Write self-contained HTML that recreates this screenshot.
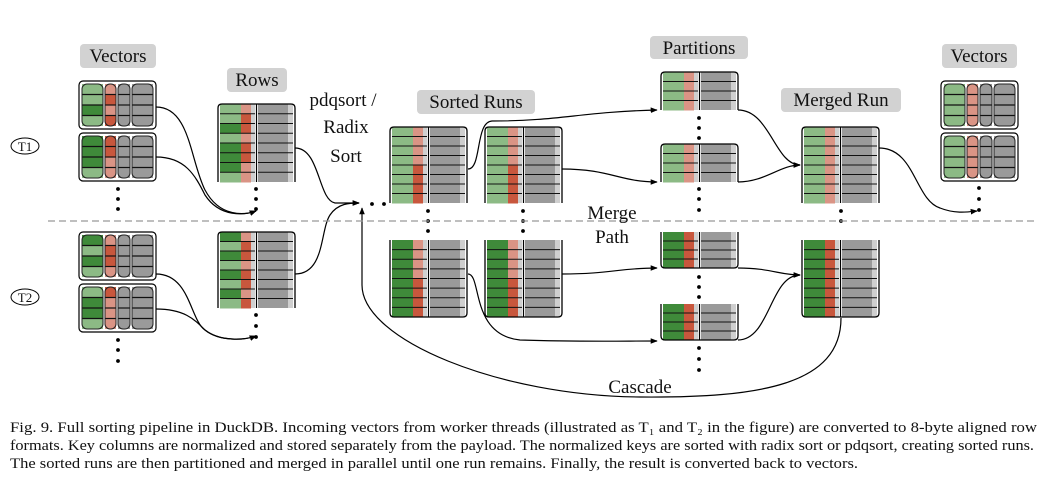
<!DOCTYPE html>
<html><head><meta charset="utf-8"><style>
html,body{margin:0;padding:0;background:#fff;}
svg{display:block;}
text{font-family:"Liberation Serif",serif;}
</style></head><body>
<svg id="s" width="1063" height="487" viewBox="0 0 1063 487" xmlns="http://www.w3.org/2000/svg">
<defs>
<marker id="ah" viewBox="0 0 10 10" refX="9" refY="5" markerWidth="7" markerHeight="7" orient="auto-start-reverse" markerUnits="userSpaceOnUse"><path d="M0,1 L10,5 L0,9 z" fill="#000"/></marker>
</defs>
<g id="shapes"></g>
<!-- dashed separator -->
<line x1="48" y1="221" x2="1035" y2="221" stroke="#999" stroke-width="1.3" stroke-dasharray="7,4"/>
<!-- labels -->
<g font-size="19" fill="#111">
<rect x="80" y="44" width="76" height="24" rx="4" fill="#d2d2d2"/><text x="118" y="62" text-anchor="middle">Vectors</text>
<rect x="227" y="68" width="60" height="24" rx="4" fill="#d2d2d2"/><text x="257" y="86" text-anchor="middle">Rows</text>
<rect x="417" y="90" width="118" height="24" rx="4" fill="#d2d2d2"/><text x="476" y="108" text-anchor="middle">Sorted Runs</text>
<rect x="650" y="36" width="98" height="23" rx="4" fill="#d2d2d2"/><text x="699" y="54" text-anchor="middle">Partitions</text>
<rect x="781" y="88" width="120" height="24" rx="4" fill="#d2d2d2"/><text x="841" y="106" text-anchor="middle">Merged Run</text>
<rect x="942" y="44" width="75" height="24" rx="4" fill="#d2d2d2"/><text x="979" y="62" text-anchor="middle">Vectors</text>
<text x="343" y="106" text-anchor="middle">pdqsort /</text>
<text x="346" y="133" text-anchor="middle">Radix</text>
<text x="346" y="162" text-anchor="middle">Sort</text>
<text x="612" y="219" text-anchor="middle">Merge</text>
<text x="612" y="243" text-anchor="middle">Path</text>
<text x="640" y="393" text-anchor="middle">Cascade</text>
</g>
<g font-size="13" fill="#111">
<ellipse cx="25" cy="146" rx="14" ry="8" fill="none" stroke="#000"/><text x="25" y="151" text-anchor="middle">T1</text>
<ellipse cx="25" cy="297" rx="14" ry="8" fill="none" stroke="#000"/><text x="25" y="302" text-anchor="middle">T2</text>
</g>
<g font-size="14.5" fill="#111">
<text x="10" y="432" textLength="1027" lengthAdjust="spacingAndGlyphs">Fig. 9.  Full sorting pipeline in DuckDB. Incoming vectors from worker threads (illustrated as T₁ and T₂ in the figure) are converted to 8-byte aligned row</text>
<text x="10" y="450" textLength="1024" lengthAdjust="spacingAndGlyphs">formats. Key columns are normalized and stored separately from the payload. The normalized keys are sorted with radix sort or pdqsort, creating sorted runs.</text>
<text x="10" y="468" textLength="848" lengthAdjust="spacingAndGlyphs">The sorted runs are then partitioned and merged in parallel until one run remains. Finally, the result is converted back to vectors.</text>
</g>
</svg>
<script>
const NS="http://www.w3.org/2000/svg";
const G=document.getElementById("shapes");
function el(t,a){const e=document.createElementNS(NS,t);for(const k in a)e.setAttribute(k,a[k]);G.appendChild(e);return e;}
const LG="#8cba85",DG="#3f8a3a",LP="#da9485",DP="#c8573d",GR="#9a9a9a",LS="#cfcfcf";
function vec(x,y,gr,pk){
 el("rect",{x:x,y:y,width:77,height:48,rx:4,fill:"#fff",stroke:"#000","stroke-width":1.2});
 const cols=[[3,21],[26,11],[39,12],[53,21]];
 const h=42,rh=h/4;
 cols.forEach((c,i)=>{
  for(let r=0;r<4;r++){
   let f=GR; if(i==0)f=gr[r]?DG:LG; if(i==1)f=pk[r]?DP:LP;
   el("rect",{x:x+c[0],y:y+3+r*rh,width:c[1],height:rh,fill:f});
  }
  for(let r=1;r<4;r++)el("line",{x1:x+c[0],x2:x+c[0]+c[1],y1:y+3+r*rh,y2:y+3+r*rh,stroke:"#111","stroke-width":1.2});
  el("rect",{x:x+c[0],y:y+3,width:c[1],height:h,rx:5,fill:"none",stroke:"#222","stroke-width":1});
 });
}
function rowsBlk(x,y,h,top,gr,pk,n){
 // top: true => rounded top, cut bottom
 const w=77,rh=h/n;
 for(let r=0;r<n;r++){
  const yy=y+r*rh;
  el("rect",{x:x+2,y:yy,width:21,height:rh+0.5,fill:gr[r]?DG:LG});
  el("rect",{x:x+23,y:yy,width:10,height:rh+0.5,fill:pk[r]?DP:LP});
 }
 el("rect",{x:x+33,y:y,width:4,height:h,fill:LS});
 el("rect",{x:x+40,y:y,width:30,height:h,fill:GR});
 el("rect",{x:x+70,y:y,width:5,height:h,fill:LS});
 for(let r=1;r<=n;r++){
  const yy=y+r*rh-(top?0:rh);
  if(top&&r==n)break;
  const ly=top?y+r*rh:y+r*rh;
  if(!top&&r==n)break;
  el("line",{x1:x+2,x2:x+37,y1:ly,y2:ly,stroke:"#111","stroke-width":1.1});
  el("line",{x1:x+40,x2:x+75,y1:ly,y2:ly,stroke:"#111","stroke-width":1.1});
 }
 el("line",{x1:x+38.5,x2:x+38.5,y1:y,y2:y+h,stroke:"#000","stroke-width":1.2});
 const r=4;
 let d;
 if(top) d=`M${x},${y+h} L${x},${y+r} Q${x},${y} ${x+r},${y} L${x+w-r},${y} Q${x+w},${y} ${x+w},${y+r} L${x+w},${y+h}`;
 else d=`M${x},${y} L${x},${y+h-r} Q${x},${y+h} ${x+r},${y+h} L${x+w-r},${y+h} Q${x+w},${y+h} ${x+w},${y+h-r} L${x+w},${y}`;
 el("path",{d:d,fill:"none",stroke:"#000","stroke-width":1.3});
}
function dots(x,ys){ys.forEach(y=>el("circle",{cx:x,cy:y,r:1.9,fill:"#000"}));}
function arr(d,m=true){const a={d:d,fill:"none",stroke:"#000","stroke-width":1.2};if(m)a["marker-end"]="url(#ah)";el("path",a);}
const A=(s)=>s.split("").map(c=>c=="1"?1:0);
// left vectors
vec(79,81,A("0010"),A("0101"));
vec(79,133,A("1110"),A("1100"));
vec(79,232,A("1010"),A("0110"));
vec(79,284,A("0110"),A("1000"));
dots(118,[189,199,209]); dots(118,[340,350,361]);
// rows
rowsBlk(218,104,78,true,A("00101110"),A("01101100"),8);
rowsBlk(218,232,76,true,A("10101010"),A("01101101"),8);
dots(256,[189,199,209]); dots(256,[315,326,337]);
// sorted runs
rowsBlk(390,127,76,true,A("00000000"),A("00001111"),8);
rowsBlk(485,127,76,true,A("00000000"),A("00001111"),8);
rowsBlk(390,240,77,false,A("11111111"),A("00001111"),8);
rowsBlk(485,240,77,false,A("11111111"),A("00001111"),8);
dots(428,[211,221,231]); dots(523,[211,221,231]);
// partitions
rowsBlk(661,72,38,true,A("0000"),A("0000"),4);
rowsBlk(661,144,38,true,A("0000"),A("0000"),4);
rowsBlk(661,232,36,false,A("1111"),A("1111"),4);
rowsBlk(661,304,36,false,A("1111"),A("1111"),4);
dots(699,[118,128,138]); dots(699,[189,199,210]); dots(699,[277,287,297]); dots(699,[348,359,370]);
// merged
rowsBlk(802,127,76,true,A("00000000"),A("00000000"),8);
rowsBlk(802,240,77,false,A("11111111"),A("11111111"),8);
dots(841,[211,221]);
// right vectors
vec(941,81,A("0000"),A("0000"));
vec(941,133,A("0000"),A("0000"));
dots(979,[188,199,210]);
// arrows
arr("M156,107 C190,107 190,160 205,190 C220,218 245,215 256,211");
arr("M156,157 C185,157 195,175 205,195 C220,218 245,215 256,211");
arr("M156,274 C190,274 190,320 205,330 C220,342 245,340 256,336");
arr("M156,309 C185,309 195,320 205,330 C220,342 245,340 256,336");
arr("M295,148 C320,148 318,200 335,203 L359,203");
arr("M295,274 C325,274 320,230 330,215 C338,203 350,203 359,203");
arr("M841,318 C841,385 760,398 640,397 C500,396 362,340 362,285 L362,208");
dots(372,[204]); dots(384,[204]);
arr("M468,169 C482,169 475,122 492,121 C560,121 580,112 657,110");
arr("M562,169 C610,169 620,182 657,182");
arr("M562,274 C610,274 620,268 657,268");
arr("M468,274 C482,274 470,335 520,340 C580,342 620,341 657,341");
arr("M738,110 C770,110 775,165 800,165");
arr("M738,182 C765,182 780,165 800,165");
arr("M738,268 C770,268 780,275 800,275");
arr("M738,340 C770,340 770,275 800,275");
arr("M879,148 C915,148 915,200 940,208 C955,214 968,212 977,211");
</script>
</body></html>
